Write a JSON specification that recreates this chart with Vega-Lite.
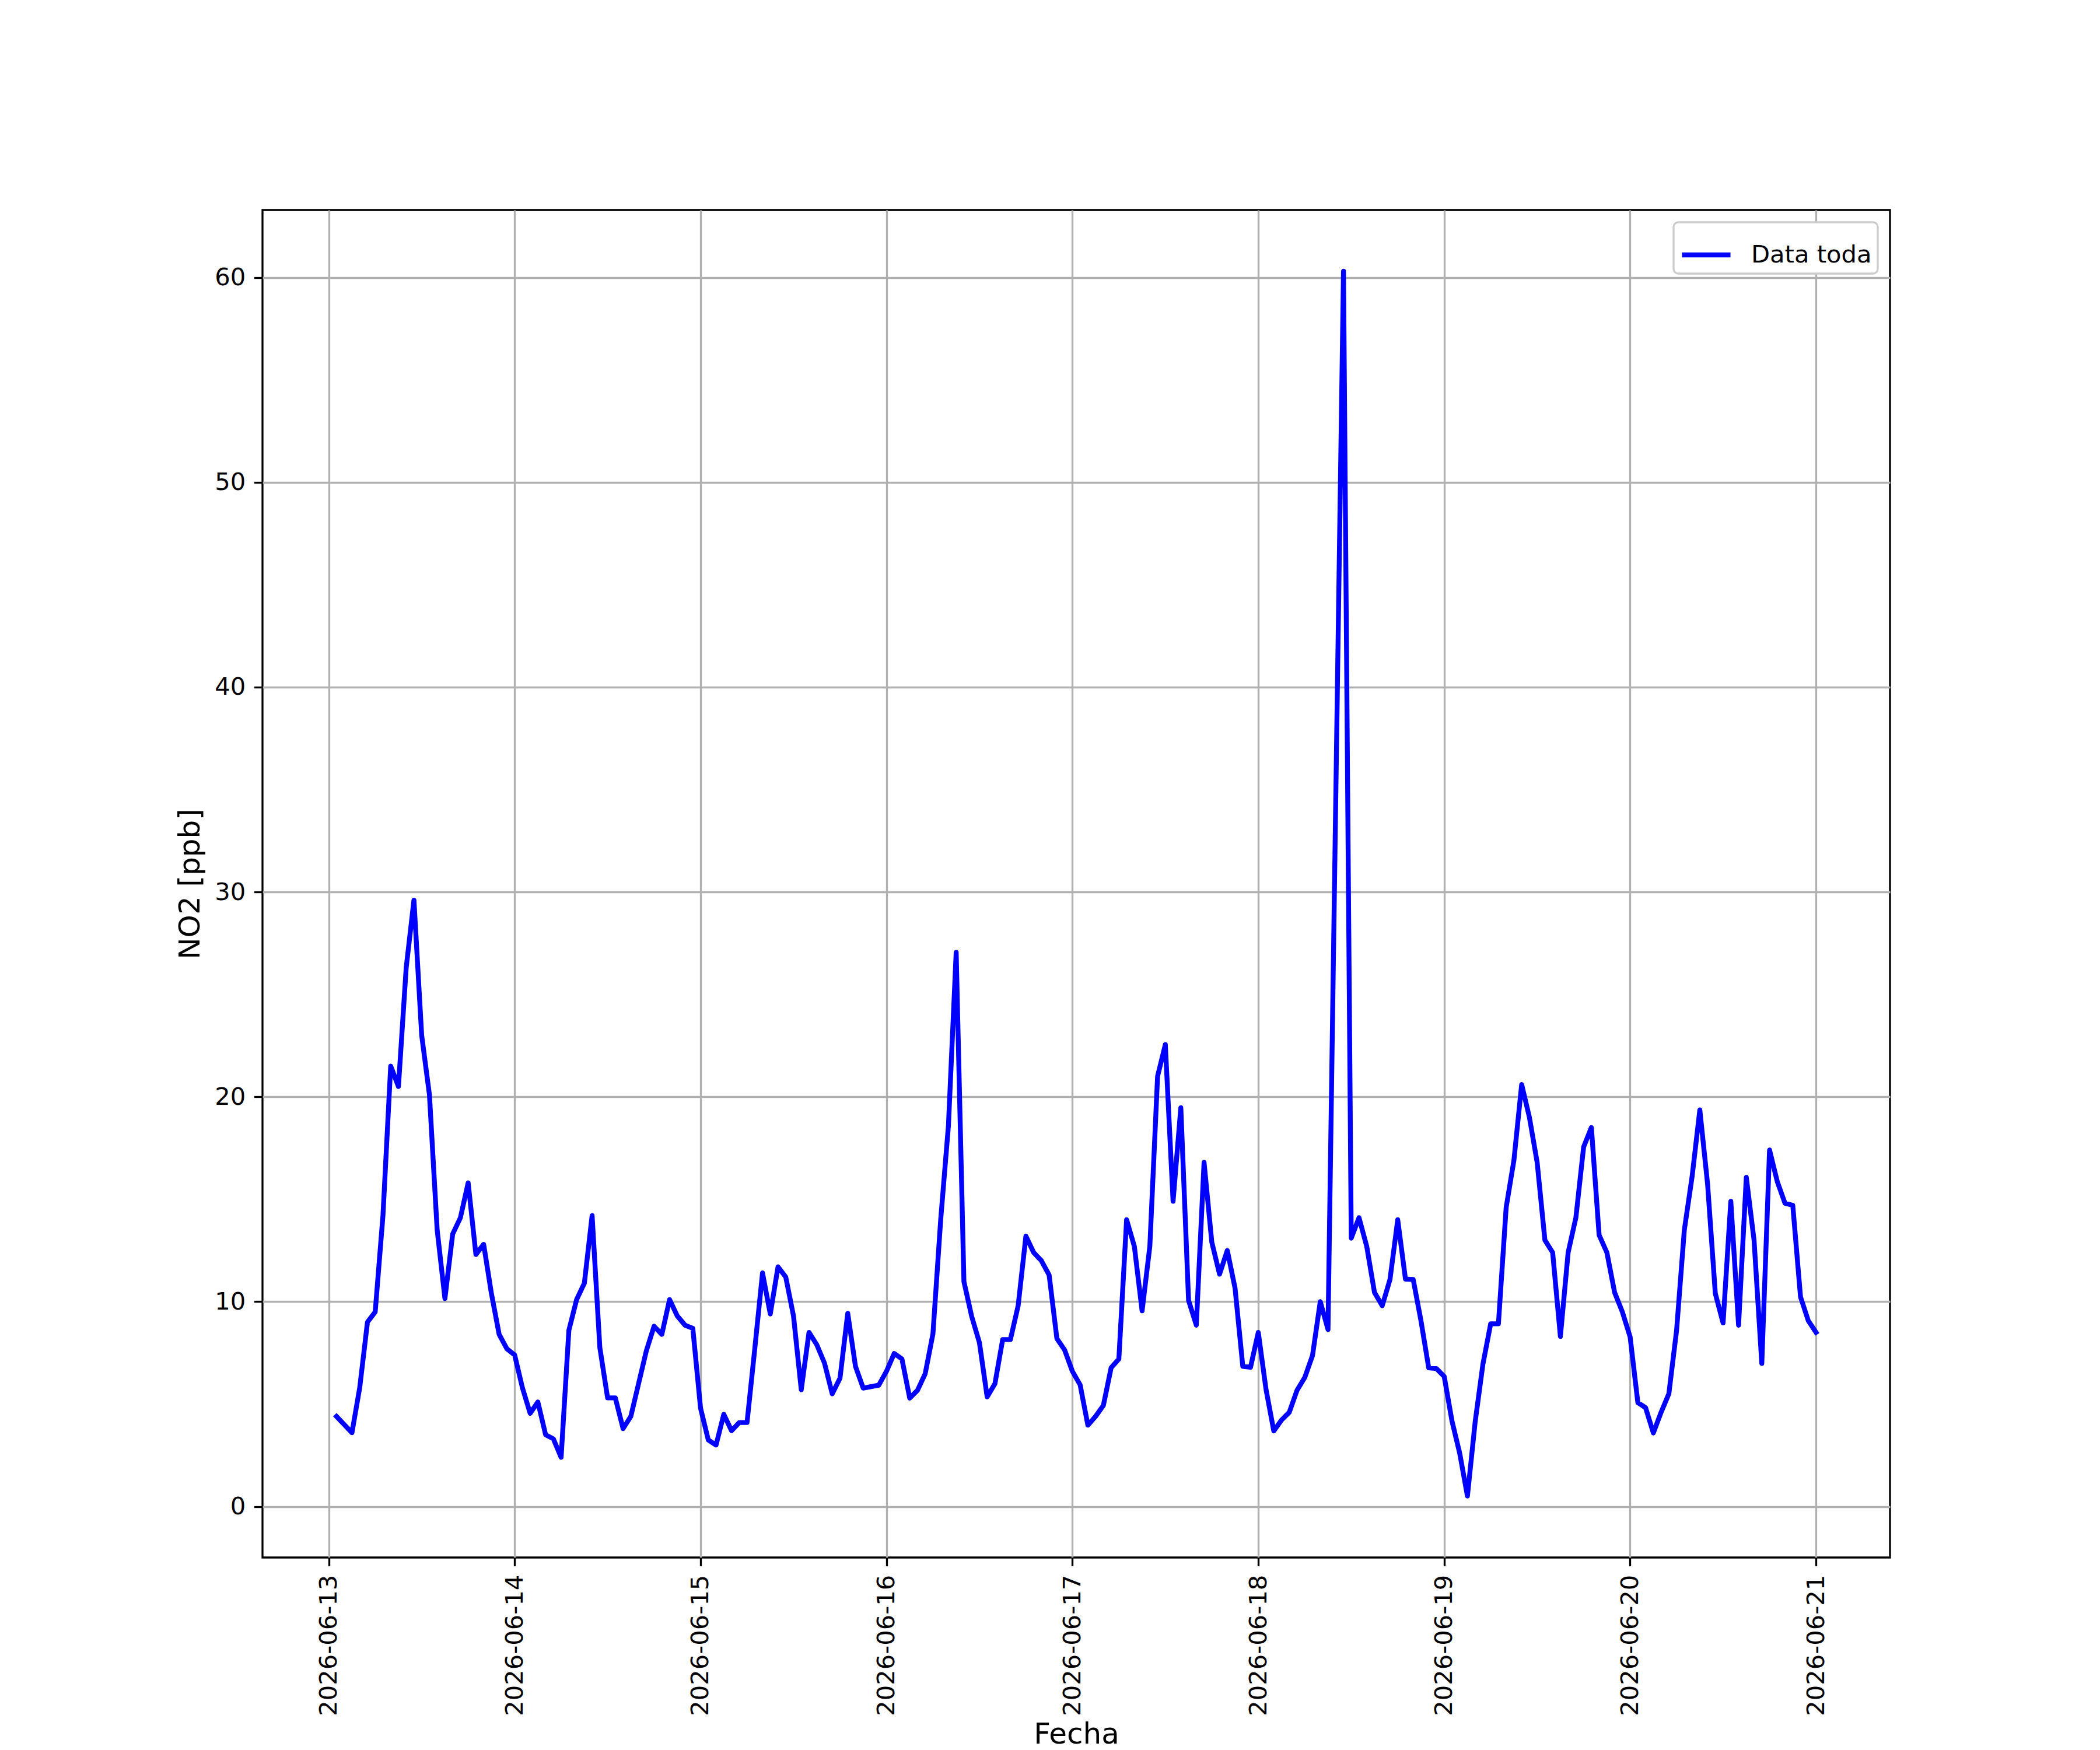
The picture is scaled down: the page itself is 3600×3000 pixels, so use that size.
{
  "$schema": "https://vega.github.io/schema/vega-lite/v6.json",
  "autosize": {"type": "none"},
  "padding": {"left": 450, "top": 360, "right": 360, "bottom": 330},
  "width": 2790,
  "height": 2310,
  "background": "white",
  "data": {"values": [
    {"t": "2026-06-13T01:00", "v": 4.4}, {"t": "2026-06-13T02:00", "v": 4.0}, {"t": "2026-06-13T03:00", "v": 3.6}, {"t": "2026-06-13T04:00", "v": 5.8},
    {"t": "2026-06-13T05:00", "v": 9.0}, {"t": "2026-06-13T06:00", "v": 9.5}, {"t": "2026-06-13T07:00", "v": 14.2}, {"t": "2026-06-13T08:00", "v": 21.5},
    {"t": "2026-06-13T09:00", "v": 20.5}, {"t": "2026-06-13T10:00", "v": 26.3}, {"t": "2026-06-13T11:00", "v": 29.6}, {"t": "2026-06-13T12:00", "v": 23.0},
    {"t": "2026-06-13T13:00", "v": 20.1}, {"t": "2026-06-13T14:00", "v": 13.5}, {"t": "2026-06-13T15:00", "v": 10.15}, {"t": "2026-06-13T16:00", "v": 13.3},
    {"t": "2026-06-13T17:00", "v": 14.1}, {"t": "2026-06-13T18:00", "v": 15.8}, {"t": "2026-06-13T19:00", "v": 12.3}, {"t": "2026-06-13T20:00", "v": 12.8},
    {"t": "2026-06-13T21:00", "v": 10.4}, {"t": "2026-06-13T22:00", "v": 8.4}, {"t": "2026-06-13T23:00", "v": 7.7}, {"t": "2026-06-14T00:00", "v": 7.4},

    {"t": "2026-06-14T01:00", "v": 5.8}, {"t": "2026-06-14T02:00", "v": 4.55}, {"t": "2026-06-14T03:00", "v": 5.1}, {"t": "2026-06-14T04:00", "v": 3.5},
    {"t": "2026-06-14T05:00", "v": 3.3}, {"t": "2026-06-14T06:00", "v": 2.4}, {"t": "2026-06-14T07:00", "v": 8.6}, {"t": "2026-06-14T08:00", "v": 10.1},
    {"t": "2026-06-14T09:00", "v": 10.9}, {"t": "2026-06-14T10:00", "v": 14.2}, {"t": "2026-06-14T11:00", "v": 7.75}, {"t": "2026-06-14T12:00", "v": 5.3},
    {"t": "2026-06-14T13:00", "v": 5.3}, {"t": "2026-06-14T14:00", "v": 3.8}, {"t": "2026-06-14T15:00", "v": 4.4}, {"t": "2026-06-14T16:00", "v": 6.0},
    {"t": "2026-06-14T17:00", "v": 7.6}, {"t": "2026-06-14T18:00", "v": 8.8}, {"t": "2026-06-14T19:00", "v": 8.4}, {"t": "2026-06-14T20:00", "v": 10.1},
    {"t": "2026-06-14T21:00", "v": 9.3}, {"t": "2026-06-14T22:00", "v": 8.85}, {"t": "2026-06-14T23:00", "v": 8.7}, {"t": "2026-06-15T00:00", "v": 4.8},

    {"t": "2026-06-15T01:00", "v": 3.25}, {"t": "2026-06-15T02:00", "v": 3.0}, {"t": "2026-06-15T03:00", "v": 4.5}, {"t": "2026-06-15T04:00", "v": 3.7},
    {"t": "2026-06-15T05:00", "v": 4.1}, {"t": "2026-06-15T06:00", "v": 4.1}, {"t": "2026-06-15T07:00", "v": 7.7}, {"t": "2026-06-15T08:00", "v": 11.4},
    {"t": "2026-06-15T09:00", "v": 9.4}, {"t": "2026-06-15T10:00", "v": 11.7}, {"t": "2026-06-15T11:00", "v": 11.2}, {"t": "2026-06-15T12:00", "v": 9.3},
    {"t": "2026-06-15T13:00", "v": 5.7}, {"t": "2026-06-15T14:00", "v": 8.5}, {"t": "2026-06-15T15:00", "v": 7.9}, {"t": "2026-06-15T16:00", "v": 7.0},
    {"t": "2026-06-15T17:00", "v": 5.5}, {"t": "2026-06-15T18:00", "v": 6.26}, {"t": "2026-06-15T19:00", "v": 9.43}, {"t": "2026-06-15T20:00", "v": 6.84},
    {"t": "2026-06-15T21:00", "v": 5.78}, {"t": "2026-06-15T22:00", "v": 5.85}, {"t": "2026-06-15T23:00", "v": 5.92}, {"t": "2026-06-16T00:00", "v": 6.6},

    {"t": "2026-06-16T01:00", "v": 7.47}, {"t": "2026-06-16T02:00", "v": 7.2}, {"t": "2026-06-16T03:00", "v": 5.29}, {"t": "2026-06-16T04:00", "v": 5.67},
    {"t": "2026-06-16T05:00", "v": 6.48}, {"t": "2026-06-16T06:00", "v": 8.43}, {"t": "2026-06-16T07:00", "v": 14.0}, {"t": "2026-06-16T08:00", "v": 18.6},
    {"t": "2026-06-16T09:00", "v": 27.05}, {"t": "2026-06-16T10:00", "v": 10.98}, {"t": "2026-06-16T11:00", "v": 9.28}, {"t": "2026-06-16T12:00", "v": 8.0},
    {"t": "2026-06-16T13:00", "v": 5.35}, {"t": "2026-06-16T14:00", "v": 5.99}, {"t": "2026-06-16T15:00", "v": 8.15}, {"t": "2026-06-16T16:00", "v": 8.15},
    {"t": "2026-06-16T17:00", "v": 9.8}, {"t": "2026-06-16T18:00", "v": 13.2}, {"t": "2026-06-16T19:00", "v": 12.4}, {"t": "2026-06-16T20:00", "v": 12.0},
    {"t": "2026-06-16T21:00", "v": 11.3}, {"t": "2026-06-16T22:00", "v": 8.2}, {"t": "2026-06-16T23:00", "v": 7.64}, {"t": "2026-06-17T00:00", "v": 6.6},

    {"t": "2026-06-17T01:00", "v": 5.94}, {"t": "2026-06-17T02:00", "v": 3.97}, {"t": "2026-06-17T03:00", "v": 4.4}, {"t": "2026-06-17T04:00", "v": 4.93},
    {"t": "2026-06-17T05:00", "v": 6.77}, {"t": "2026-06-17T06:00", "v": 7.2}, {"t": "2026-06-17T07:00", "v": 14.0}, {"t": "2026-06-17T08:00", "v": 12.7},
    {"t": "2026-06-17T09:00", "v": 9.55}, {"t": "2026-06-17T10:00", "v": 12.7}, {"t": "2026-06-17T11:00", "v": 21.0}, {"t": "2026-06-17T12:00", "v": 22.55},
    {"t": "2026-06-17T13:00", "v": 14.9}, {"t": "2026-06-17T14:00", "v": 19.47}, {"t": "2026-06-17T15:00", "v": 10.06}, {"t": "2026-06-17T16:00", "v": 8.85},
    {"t": "2026-06-17T17:00", "v": 16.8}, {"t": "2026-06-17T18:00", "v": 12.9}, {"t": "2026-06-17T19:00", "v": 11.34}, {"t": "2026-06-17T20:00", "v": 12.5},
    {"t": "2026-06-17T21:00", "v": 10.66}, {"t": "2026-06-17T22:00", "v": 6.84}, {"t": "2026-06-17T23:00", "v": 6.8}, {"t": "2026-06-18T00:00", "v": 8.5},

    {"t": "2026-06-18T01:00", "v": 5.71}, {"t": "2026-06-18T02:00", "v": 3.69}, {"t": "2026-06-18T03:00", "v": 4.22}, {"t": "2026-06-18T04:00", "v": 4.6},
    {"t": "2026-06-18T05:00", "v": 5.67}, {"t": "2026-06-18T06:00", "v": 6.3}, {"t": "2026-06-18T07:00", "v": 7.37}, {"t": "2026-06-18T08:00", "v": 10.0},
    {"t": "2026-06-18T09:00", "v": 8.64}, {"t": "2026-06-18T10:00", "v": 34.5}, {"t": "2026-06-18T11:00", "v": 60.3}, {"t": "2026-06-18T12:00", "v": 13.1},
    {"t": "2026-06-18T13:00", "v": 14.1}, {"t": "2026-06-18T14:00", "v": 12.7}, {"t": "2026-06-18T15:00", "v": 10.45}, {"t": "2026-06-18T16:00", "v": 9.8},
    {"t": "2026-06-18T17:00", "v": 11.08}, {"t": "2026-06-18T18:00", "v": 14.0}, {"t": "2026-06-18T19:00", "v": 11.1}, {"t": "2026-06-18T20:00", "v": 11.08},
    {"t": "2026-06-18T21:00", "v": 9.07}, {"t": "2026-06-18T22:00", "v": 6.77}, {"t": "2026-06-18T23:00", "v": 6.73}, {"t": "2026-06-19T00:00", "v": 6.35},

    {"t": "2026-06-19T01:00", "v": 4.18}, {"t": "2026-06-19T02:00", "v": 2.6}, {"t": "2026-06-19T03:00", "v": 0.51}, {"t": "2026-06-19T04:00", "v": 4.14},
    {"t": "2026-06-19T05:00", "v": 6.95}, {"t": "2026-06-19T06:00", "v": 8.92}, {"t": "2026-06-19T07:00", "v": 8.92}, {"t": "2026-06-19T08:00", "v": 14.6},
    {"t": "2026-06-19T09:00", "v": 16.9}, {"t": "2026-06-19T10:00", "v": 20.6}, {"t": "2026-06-19T11:00", "v": 19.0}, {"t": "2026-06-19T12:00", "v": 16.8},
    {"t": "2026-06-19T13:00", "v": 13.0}, {"t": "2026-06-19T14:00", "v": 12.4}, {"t": "2026-06-19T15:00", "v": 8.3}, {"t": "2026-06-19T16:00", "v": 12.4},
    {"t": "2026-06-19T17:00", "v": 14.1}, {"t": "2026-06-19T18:00", "v": 17.55}, {"t": "2026-06-19T19:00", "v": 18.5}, {"t": "2026-06-19T20:00", "v": 13.25},
    {"t": "2026-06-19T21:00", "v": 12.4}, {"t": "2026-06-19T22:00", "v": 10.45}, {"t": "2026-06-19T23:00", "v": 9.5}, {"t": "2026-06-20T00:00", "v": 8.28},

    {"t": "2026-06-20T01:00", "v": 5.07}, {"t": "2026-06-20T02:00", "v": 4.82}, {"t": "2026-06-20T03:00", "v": 3.59}, {"t": "2026-06-20T04:00", "v": 4.6},
    {"t": "2026-06-20T05:00", "v": 5.5}, {"t": "2026-06-20T06:00", "v": 8.6}, {"t": "2026-06-20T07:00", "v": 13.5}, {"t": "2026-06-20T08:00", "v": 16.1},
    {"t": "2026-06-20T09:00", "v": 19.36}, {"t": "2026-06-20T10:00", "v": 15.75}, {"t": "2026-06-20T11:00", "v": 10.4}, {"t": "2026-06-20T12:00", "v": 8.96},
    {"t": "2026-06-20T13:00", "v": 14.9}, {"t": "2026-06-20T14:00", "v": 8.85}, {"t": "2026-06-20T15:00", "v": 16.07}, {"t": "2026-06-20T16:00", "v": 13.0},
    {"t": "2026-06-20T17:00", "v": 6.98}, {"t": "2026-06-20T18:00", "v": 17.4}, {"t": "2026-06-20T19:00", "v": 15.86}, {"t": "2026-06-20T20:00", "v": 14.8},
    {"t": "2026-06-20T21:00", "v": 14.7}, {"t": "2026-06-20T22:00", "v": 10.23}, {"t": "2026-06-20T23:00", "v": 9.07}, {"t": "2026-06-21T00:00", "v": 8.5}
  ]},
  "mark": {"type": "line", "strokeWidth": 8.33, "strokeCap": "square", "strokeJoin": "round"},
  "encoding": {
    "x": {
      "field": "t",
      "type": "temporal",
      "scale": {
        "domain": [
          {"year": 2026, "month": 6, "date": 12, "hours": 15, "minutes": 27},
          {"year": 2026, "month": 6, "date": 21, "hours": 9, "minutes": 33}
        ],
        "nice": false
      },
      "axis": {
        "title": "Fecha",
        "format": "%Y-%m-%d",
        "tickCount": {"interval": "day", "step": 1},
        "labelAngle": -90,
        "labelFlush": false,
        "labelOverlap": false,
        "labelLimit": 0,
        "titleY": 318,
        "titleBaseline": "alphabetic"
      }
    },
    "y": {
      "field": "v",
      "type": "quantitative",
      "scale": {"domain": [-2.49, 63.29], "nice": false, "zero": false},
      "axis": {
        "title": "NO2 [ppb]",
        "values": [0, 10, 20, 30, 40, 50, 60],
        "titlePadding": 16.7
      }
    },
    "color": {
      "datum": "Data toda",
      "type": "nominal",
      "scale": {"range": ["#0000ff"]},
      "legend": {
        "title": null,
        "orient": "top-right",
        "offset": 21,
        "padding": 10,
        "cornerRadius": 8,
        "fillColor": "white",
        "strokeColor": "#cccccc",
        "symbolType": "M-1,0H1",
        "symbolSize": 6900,
        "symbolStrokeWidth": 8.33,
        "labelFontSize": 41.67,
        "labelOffset": 31,
        "labelLimit": 0,
        "labelColor": "black",
        "encode": {"legend": {"update": {"strokeWidth": {"value": 3.33}}}}
      }
    }
  },
  "config": {
    "font": "DejaVu Sans",
    "view": {"stroke": "black", "strokeWidth": 3.33},
    "axis": {
      "domain": false,
      "grid": true,
      "gridColor": "#b0b0b0",
      "gridWidth": 3.33,
      "tickColor": "black",
      "tickSize": 14.58,
      "tickWidth": 3.33,
      "labelPadding": 14.58,
      "labelFontSize": 41.67,
      "labelColor": "black",
      "titleFontSize": 50,
      "titleFontWeight": "normal",
      "titleColor": "black"
    }
  }
}
